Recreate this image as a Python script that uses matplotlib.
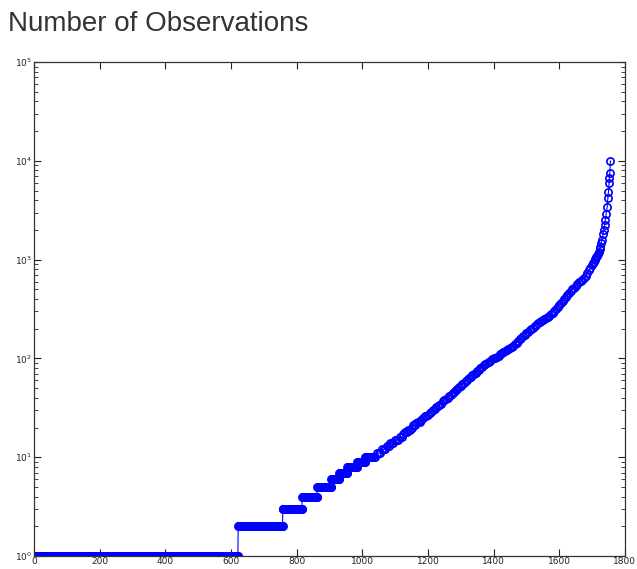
import numpy as np
import matplotlib
matplotlib.use("Agg")
import matplotlib.pyplot as plt
from matplotlib.ticker import LogLocator, FixedLocator

# sorted observation counts: flat runs of small counts (value, last rank)
run_values = [1, 2, 3, 4, 5, 6, 7, 8, 9, 10]
run_last_rank = [621, 757, 816, 862, 905, 929, 953, 984, 1008, 1030]

# upper tail, (rank, count) pairs
tail_rank = [1035, 1040, 1045, 1050, 1055, 1060, 1065, 1070, 1075, 1080,
             1085, 1090, 1095, 1100, 1105, 1110, 1115, 1120, 1125, 1130,
             1135, 1140, 1145, 1150, 1155, 1160, 1165, 1170, 1175, 1180,
             1185, 1190, 1195, 1200, 1205, 1210, 1215, 1220, 1225, 1230,
             1235, 1240, 1245, 1250, 1255, 1260, 1265, 1270, 1275, 1280,
             1285, 1290, 1295, 1300, 1305, 1310, 1315, 1320, 1325, 1330,
             1335, 1340, 1345, 1350, 1355, 1360, 1365, 1370, 1375, 1380,
             1385, 1390, 1395, 1400, 1405, 1410, 1415, 1420, 1425, 1430,
             1435, 1440, 1445, 1450, 1455, 1460, 1465, 1470, 1475, 1480,
             1485, 1490, 1495, 1500, 1505, 1510, 1515, 1520, 1525, 1530,
             1535, 1540, 1545, 1550, 1555, 1560, 1565, 1570, 1575, 1580,
             1585, 1590, 1595, 1600, 1605, 1610, 1615, 1620, 1625, 1630,
             1635, 1640, 1645, 1650, 1655, 1660, 1665, 1670, 1675, 1680,
             1685, 1690, 1695, 1700, 1703, 1705, 1708, 1710, 1713, 1715,
             1718, 1720, 1723, 1725, 1728, 1730, 1733, 1735, 1738, 1740,
             1743, 1746, 1748, 1750, 1752, 1753, 1754, 1756]
tail_count = [10, 10, 11, 11, 11, 12, 12, 12, 13, 13,
              14, 14, 14, 15, 15, 15, 16, 16, 17, 18,
              18, 19, 19, 20, 21, 21, 22, 23, 23, 24,
              25, 26, 26, 27, 28, 29, 30, 31, 32, 33,
              34, 35, 37, 38, 39, 40, 42, 43, 45, 46,
              48, 49, 51, 53, 55, 57, 59, 61, 63, 65,
              68, 70, 72, 75, 77, 80, 82, 85, 88, 90,
              93, 95, 98, 100, 102, 104, 107, 110, 113, 116,
              118, 121, 124, 127, 130, 134, 139, 145, 151, 157,
              162, 168, 174, 180, 186, 192, 198, 205, 212, 220,
              226, 232, 238, 245, 251, 258, 264, 270, 280, 290,
              305, 320, 335, 350, 367, 385, 402, 420, 440, 460,
              480, 500, 522, 545, 567, 590, 610, 630, 655, 680,
              730, 780, 830, 880, 920, 950, 990, 1020, 1060, 1100,
              1150, 1200, 1280, 1350, 1480, 1600, 1800, 2000, 2250, 2500,
              2900, 3400, 4200, 4900, 6000, 6700, 7600, 10000]

run_len = np.diff([0] + run_last_rank)
ranks = list(np.arange(1, run_last_rank[-1] + 1)) + tail_rank
counts = list(np.repeat(run_values, run_len)) + tail_count

fig = plt.figure(figsize=(6.37, 5.69), dpi=100)
ax = fig.add_axes([0.0534, 0.0228, 0.9276, 0.868])

ax.plot(ranks, counts, color="#0000ff", linewidth=0.8, marker="o",
        markersize=5.2, markerfacecolor="none", markeredgecolor="#0000ff",
        markeredgewidth=1.2)

ax.set_yscale("log")
ax.set_xlim(0, 1800)
ax.set_ylim(1, 1e5)
ax.xaxis.set_major_locator(FixedLocator(np.arange(0, 1801, 200)))
ax.yaxis.set_major_locator(LogLocator(base=10, numticks=10))
ax.yaxis.set_minor_locator(LogLocator(base=10, subs=np.arange(2, 10), numticks=10))

ax.tick_params(which="both", direction="in", top=True, right=True,
               labelsize=6.5, colors="#222222", pad=1.5)
ax.tick_params(which="major", length=5, width=0.8)
ax.tick_params(which="minor", length=3, width=0.6)
ax.tick_params(axis="x", pad=0.5)
for s in ax.spines.values():
    s.set_color("#333333")
    s.set_linewidth(0.9)

fig.text(0.013, 0.958, "Number of Observations", fontsize=20,
         family="Liberation Sans", color="#333333", va="center", ha="left")

fig.savefig("out.png", dpi=100)
